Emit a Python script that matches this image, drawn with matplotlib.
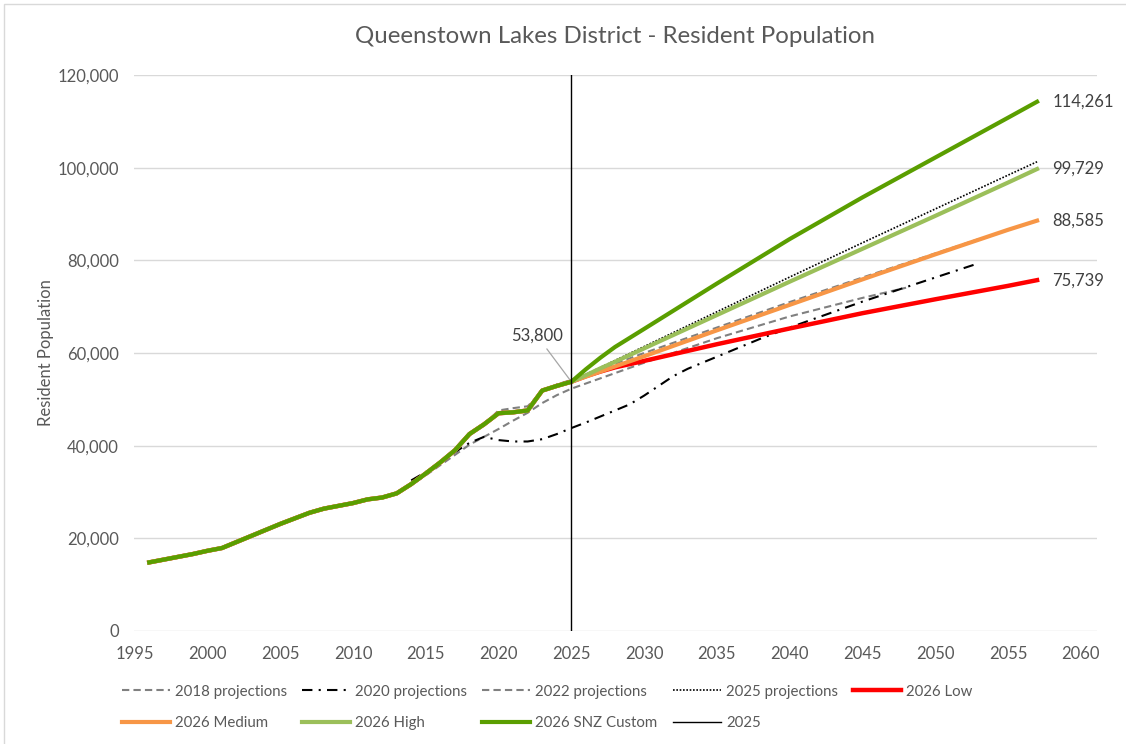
import matplotlib
matplotlib.use('Agg')
import matplotlib.pyplot as plt
from matplotlib.lines import Line2D
from matplotlib.patches import Rectangle

plt.rcParams['font.family'] = ['Lato', 'DejaVu Sans']

# history (resident population estimates)
hist_years = list(range(1996, 2026))
hist_pop = [14800, 15400, 16000, 16600, 17300, 17900, 19200, 20500, 21800, 23100,
            24300, 25500, 26400, 27000, 27600, 28400, 28800, 29700, 31700, 34000,
            36400, 39000, 42500, 44600, 47000, 47200, 47600, 51900, 52900, 53800]

# 2026 projection scenarios
proj_years = [2025, 2026, 2027, 2028, 2030, 2035, 2040, 2045, 2050, 2055, 2057]
snz_custom = [53800, 56500, 59000, 61300, 65200, 75000, 84600, 93600, 102200, 110800, 114261]
high = [53800, 55200, 56700, 58100, 61000, 68200, 75400, 82500, 89600, 96800, 99729]
medium = [53800, 54900, 56000, 57100, 59300, 64900, 70400, 75900, 81300, 86600, 88585]
low = [53800, 55000, 56000, 56900, 58300, 61900, 65300, 68600, 71600, 74500, 75739]

# older projection sets
p2018_years = list(range(2013, 2026)) + [2030, 2035, 2040, 2045, 2048]
p2018 = [29600, 31500, 33600, 35800, 38000, 40200, 41900, 43600, 45400, 47100,
         49200, 50900, 52300, 57900, 63200, 67900, 71900, 74100]

p2020_years = list(range(2014, 2041)) + [2045, 2050, 2053]
p2020 = [32500, 34300, 36500, 38600, 40600, 41900, 41200, 40900, 40900, 41400,
         42500, 43800, 45000, 46300, 47600, 48900, 50800, 52900, 55000, 56600,
         57900, 59200, 60500, 61800, 63100, 64300, 65500, 71100, 76300, 79400]

p2022_years = [2019, 2020, 2021, 2022, 2023, 2024, 2025, 2030, 2035, 2040, 2045, 2050, 2053]
p2022 = [44600, 47600, 48100, 48500, 51700, 53200, 54200, 60000, 65500, 71000, 76300, 81500, 84600]

p2025_years = [2025, 2030, 2035, 2040, 2045, 2050, 2055, 2057]
p2025 = [53900, 61400, 68900, 76400, 83800, 91100, 98400, 101300]

base_year = 2025
base_pop = 53800

TXT = '#595959'
C_DKGREEN = '#5A9E00'
C_LTGREEN = '#9BBF5A'
C_ORANGE = '#F79646'
C_RED = '#FF0000'
C_GREY = '#808080'

fig = plt.figure(figsize=(11.26, 7.44), dpi=100)
ax = fig.add_axes([0.119, 0.152, 0.855, 0.747])

# full series = history + scenario
def full(vals):
    return hist_years + proj_years[1:], hist_pop + vals[1:]

ax.plot(p2018_years, p2018, color=C_GREY, lw=1.5, ls=(0, (3.5, 2)), label='2018 projections', zorder=3)
ax.plot(p2022_years, p2022, color=C_GREY, lw=1.5, ls=(0, (3.5, 2)), label='2022 projections', zorder=3)
ax.plot(p2020_years, p2020, color='black', lw=1.5, ls=(0, (5, 3, 1, 3)), label='2020 projections', zorder=4)
ax.plot(p2025_years, p2025, color='black', lw=1.2, ls=(0, (1, 1)), label='2025 projections', zorder=4)

x, y = full(low)
ax.plot(x, y, color=C_RED, lw=3.2, label='2026 Low', zorder=5)
x, y = full(medium)
ax.plot(x, y, color=C_ORANGE, lw=3.0, label='2026 Medium', zorder=5)
x, y = full(high)
ax.plot(x, y, color=C_LTGREEN, lw=3.0, label='2026 High', zorder=5)
x, y = full(snz_custom)
ax.plot(x, y, color=C_DKGREEN, lw=3.0, label='2026 SNZ Custom', zorder=6)

ax.axvline(base_year, color='black', lw=1.0, zorder=7)

# end labels
for vals in (snz_custom, high, medium, low):
    ax.annotate(f'{vals[-1]:,}', (proj_years[-1], vals[-1]), xytext=(11, 0),
                textcoords='offset points', va='center', ha='left', fontsize=12, color='#404040')

ax.annotate(f'{base_pop:,}', (base_year, base_pop), xytext=(2022.65, 63700),
            ha='center', va='center', fontsize=12, color='#404040',
            arrowprops=dict(arrowstyle='-', color='#A6A6A6', lw=0.9, shrinkA=2, shrinkB=0))

ax.set_xlim(1994.95, 2061.1)
ax.set_ylim(0, 120000)
ax.set_xticks(range(1995, 2061, 5))
ax.set_yticks(range(0, 120001, 20000))
ax.yaxis.set_major_formatter(matplotlib.ticker.FuncFormatter(lambda v, p: f'{int(v):,}'))
ax.grid(axis='y', color='#D9D9D9', lw=1.0)
ax.set_axisbelow(True)
for s in ax.spines.values():
    s.set_visible(False)
ax.tick_params(length=0, labelsize=12, colors=TXT, pad=11)
ax.set_ylabel('Resident Population', fontsize=12, color=TXT, labelpad=2)
ax.set_title('Queenstown Lakes District - Resident Population', fontsize=17.3, color=TXT, pad=23)

# legend in Excel row order (column-major with a blank filler)
h = {l.get_label(): l for l in ax.get_lines()}
vline = Line2D([], [], color='black', lw=1.0)
blank = Line2D([], [], color='none')
handles = [h['2018 projections'], h['2026 Medium'], h['2020 projections'], h['2026 High'],
           h['2022 projections'], h['2026 SNZ Custom'], h['2025 projections'], vline,
           h['2026 Low'], blank]
labels = ['2018 projections', '2026 Medium', '2020 projections', '2026 High',
          '2022 projections', '2026 SNZ Custom', '2025 projections', '2025', '2026 Low', '']
fig.legend(handles, labels, ncol=5, loc='upper left', bbox_to_anchor=(0.096, 0.098),
           frameon=False, fontsize=10.8, labelcolor=TXT, handlelength=3.2,
           handletextpad=0.35, columnspacing=1.0, labelspacing=1.15)

fig.patches.append(Rectangle((4 / 1126, -0.01), 1.1, 1 - 4 / 744 + 0.01, transform=fig.transFigure,
                             fill=False, edgecolor='#D9D9D9', lw=1.0))

fig.savefig('out.png', dpi=100)
